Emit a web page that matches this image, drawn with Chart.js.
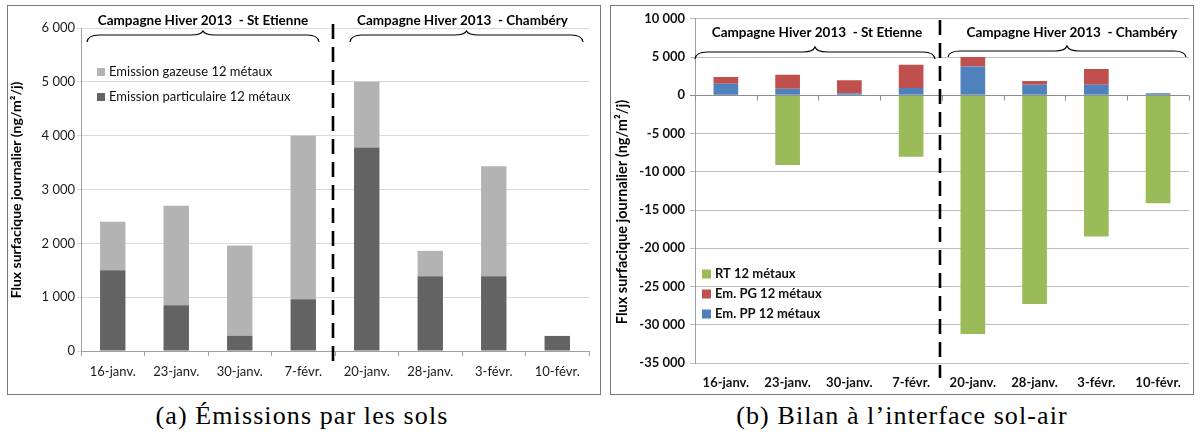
<!DOCTYPE html>
<html>
<head>
<meta charset="utf-8">
<script src="https://cdn.jsdelivr.net/npm/chart.js@4.4.1/dist/chart.umd.min.js"></script>
<style>
  body { margin: 0; background: #fff; width: 1200px; height: 441px; position: relative; overflow: hidden; }
  .box { position: absolute; border: 1px solid #7a7a7a; box-sizing: border-box; }
  .box canvas { position: absolute; left: 0; top: 0; }
  #boxA { left: 7px; top: 5px; width: 594px; height: 390px; }
  #boxB { left: 610px; top: 5px; width: 584px; height: 390px; }
  .cap { position: absolute; top: 401px; width: 560px; text-align: center; font-family: "Liberation Serif", serif; font-size: 26px; letter-spacing: 1.1px; color: #000; white-space: nowrap; }
</style>
</head>
<body>
<div class="box" id="boxA"><canvas id="cA" width="592" height="388"></canvas></div>
<div class="box" id="boxB"><canvas id="cB" width="582" height="388"></canvas></div>
<div class="cap" style="left:22px">(a) Émissions par les sols</div>
<div class="cap" style="left:622px">(b) Bilan à l’interface sol-air</div>
<script>
const categories = ['16-janv.', '23-janv.', '30-janv.', '7-févr.', '20-janv.', '28-janv.', '3-févr.', '10-févr.'];
const campagnes = ['Campagne Hiver 2013  - St Etienne', 'Campagne Hiver 2013  - Chambéry'];
// ng/m²/j
const emParticulaire = [1500, 850, 280, 960, 3780, 1390, 1390, 280];
const emGazeuse = [900, 1850, 1680, 3040, 1220, 470, 2040, 0];
const rt = [0, -9100, 0, -8050, -31200, -27300, -18450, -14100];
const yTitle = 'Flux surfacique journalier (ng/m²/j)';

const fmt = v => (v < 0 ? '-' : '') + String(Math.abs(v)).replace(/\B(?=(\d{3})+(?!\d))/g, ' ');
const FONT = 'Lato';

function brace(ctx, x1, x2, yTip, yLine, yEnd) {
  const xm = (x1 + x2) / 2, r = 12;
  ctx.beginPath();
  ctx.moveTo(x1, yEnd);
  ctx.quadraticCurveTo(x1 + 1, yLine, x1 + r, yLine);
  ctx.lineTo(xm - r, yLine);
  ctx.quadraticCurveTo(xm - 2, yLine, xm, yTip);
  ctx.quadraticCurveTo(xm + 2, yLine, xm + r, yLine);
  ctx.lineTo(x2 - r, yLine);
  ctx.quadraticCurveTo(x2 - 1, yLine, x2, yEnd);
  ctx.stroke();
}

const decor = {
  id: 'decor',
  afterDraw(chart, args, o) {
    const ctx = chart.ctx, xs = chart.scales.x;
    const step = xs.width / categories.length;
    const sep = (xs.getPixelForValue(3) + xs.getPixelForValue(4)) / 2;
    ctx.save();
    if (o.zeroTicks) {
      const y0 = Math.round(chart.scales.y.getPixelForValue(0)) + 0.5;
      ctx.strokeStyle = '#8c8c8c';
      ctx.lineWidth = 1;
      ctx.beginPath();
      for (let i = 0; i <= categories.length; i++) {
        const px = Math.round(xs.left + i * step) + 0.5;
        ctx.moveTo(px, y0);
        ctx.lineTo(px, y0 + 5);
      }
      ctx.stroke();
    }
    // titre de l'axe y
    ctx.save();
    ctx.translate(o.title.x, o.title.y);
    ctx.rotate(-Math.PI / 2);
    ctx.fillStyle = '#000';
    ctx.font = o.title.font;
    ctx.textAlign = 'center';
    ctx.textBaseline = 'middle';
    ctx.fillText(yTitle, 0, 0);
    ctx.restore();

    // séparateur entre les deux campagnes
    ctx.strokeStyle = '#000';
    ctx.lineWidth = 2.6;
    ctx.setLineDash([15, 8]);
    ctx.beginPath();
    ctx.moveTo(sep + o.sepDx, o.sepTop);
    ctx.lineTo(sep + o.sepDx, o.sepBottom);
    ctx.stroke();
    ctx.setLineDash([]);

    // accolades + titres
    const spans = [[xs.left + o.inset[0], sep - o.inset[1]], [sep + o.inset[2], xs.right - o.inset[3]]];
    ctx.lineWidth = 1.2;
    ctx.fillStyle = '#000';
    ctx.font = 'bold 13.5px ' + FONT;
    ctx.textAlign = 'center';
    ctx.textBaseline = 'middle';
    spans.forEach((s, i) => {
      const b = o.braces[i];
      brace(ctx, s[0], s[1], b[0], b[1], b[2]);
      ctx.fillText(campagnes[i], (s[0] + s[1]) / 2 + o.textDx[i], o.textY);
    });

    // légende (ordre inverse des séries)
    const lg = o.legend;
    ctx.font = lg.font;
    ctx.textAlign = 'left';
    const ds = chart.data.datasets.slice().reverse();
    ds.forEach((d, i) => {
      const y = lg.y + i * lg.row;
      ctx.fillStyle = d.backgroundColor;
      ctx.fillRect(lg.x, y - lg.box / 2, lg.box, lg.box);
      ctx.fillStyle = '#111';
      ctx.fillText(d.label, lg.x + lg.box + 4, y);
    });
    ctx.restore();
  }
};

new Chart(document.getElementById('cA'), {
  type: 'bar',
  data: {
    labels: categories,
    datasets: [
      { label: 'Emission particulaire 12 métaux', data: emParticulaire, backgroundColor: '#636363' },
      { label: 'Emission gazeuse 12 métaux', data: emGazeuse, backgroundColor: '#b3b3b3' }
    ]
  },
  options: {
    responsive: false,
    animation: false,
    layout: { padding: { top: 22, right: 11, left: 0, bottom: 0 } },
    datasets: { bar: { barPercentage: 0.4, categoryPercentage: 1 } },
    plugins: {
      legend: { display: false },
      tooltip: { enabled: false },
      decor: {
        zeroTicks: false, sepDx: -2, sepTop: 18, sepBottom: 356,
        inset: [6, 16, 15, 6],
        braces: [[25, 29, 36], [25, 29, 36]],
        textY: 15, textDx: [0, -4],
        title: { x: 8, y: 184, font: 'bold 14px ' + FONT },
        legend: { x: 89, y: 66, row: 25, box: 8, font: '13px ' + FONT }
      }
    },
    scales: {
      x: {
        stacked: true,
        grid: { offset: true, drawOnChartArea: false, tickLength: 5, color: '#a0a0a0' },
        border: { color: '#a0a0a0' },
        ticks: { color: '#1a1a1a', font: { family: FONT, size: 13 }, padding: 8 },
        afterFit: s => { s.height = 43; }
      },
      y: {
        stacked: true,
        min: 0, max: 6000,
        ticks: { stepSize: 1000, callback: fmt, color: '#1a1a1a', font: { family: FONT, size: 13 }, padding: 2 },
        grid: { color: '#d9d9d9', tickLength: 4 },
        border: { color: '#a0a0a0' },
        afterFit: s => { s.width = 73; }
      }
    }
  },
  plugins: [decor]
});

new Chart(document.getElementById('cB'), {
  type: 'bar',
  data: {
    labels: categories,
    datasets: [
      { label: 'Em. PP 12 métaux', data: emParticulaire, backgroundColor: '#4f81bd' },
      { label: 'Em. PG 12 métaux', data: emGazeuse, backgroundColor: '#c0504d' },
      { label: 'RT 12 métaux', data: rt, backgroundColor: '#9bbb59' }
    ]
  },
  options: {
    responsive: false,
    animation: false,
    layout: { padding: { top: 11, right: 3, left: 0, bottom: 0 } },
    datasets: { bar: { barPercentage: 0.4, categoryPercentage: 1 } },
    plugins: {
      legend: { display: false },
      tooltip: { enabled: false },
      decor: {
        zeroTicks: true, sepDx: -2, sepTop: 14, sepBottom: 372,
        inset: [0, 7, 6, 3],
        braces: [[41, 46, 53], [40, 45, 51]],
        textY: 27, textDx: [2, 5],
        title: { x: 11, y: 206, font: 'bold 14.5px ' + FONT },
        legend: { x: 91, y: 268, row: 20, box: 9, font: 'bold 13px ' + FONT }
      }
    },
    scales: {
      x: {
        stacked: true,
        grid: { display: false, drawTicks: false },
        border: { display: false },
        ticks: { color: '#111', font: { family: FONT, size: 13, weight: 'bold' }, padding: 12 },
        afterFit: s => { s.height = 31; }
      },
      y: {
        stacked: true,
        min: -35000, max: 10000,
        ticks: { stepSize: 5000, callback: fmt, color: '#111', font: { family: FONT, size: 13, weight: 'bold' }, padding: 5 },
        grid: { color: c => (c.tick && c.tick.value === 0 ? '#8c8c8c' : '#bdbdbd'), tickLength: 5 },
        border: { color: '#a0a0a0' },
        afterFit: s => { s.width = 84; }
      }
    }
  },
  plugins: [decor]
});
</script>
</body>
</html>
